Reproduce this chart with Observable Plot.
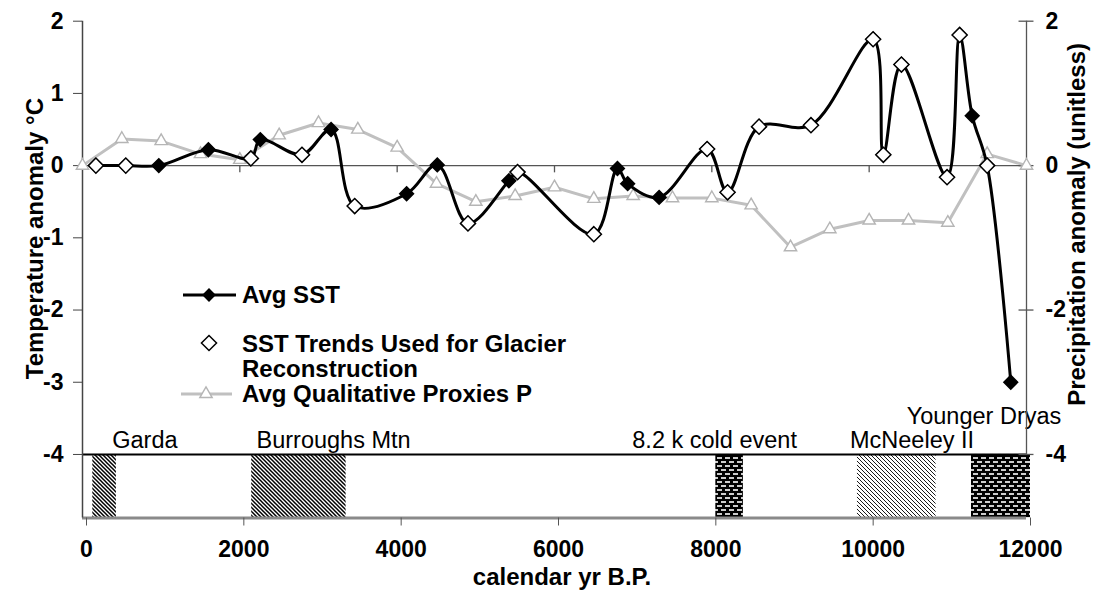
<!DOCTYPE html>
<html>
<head>
<meta charset="utf-8">
<script src="https://cdn.jsdelivr.net/npm/d3@7"></script>
<script src="https://cdn.jsdelivr.net/npm/@observablehq/plot@0.6"></script>
<style>
  html, body { margin: 0; padding: 0; background: #fff; }
  svg { overflow: visible; }
</style>
</head>
<body>
<div id="chart"></div>
<script>
// ---------- data ----------
// Avg SST (all points through which the smoothed black curve passes)
const sstYears  = [170, 550, 970, 1600, 2140, 2260, 2790, 3160, 3460, 4120, 4510, 4900, 5420, 5530, 6500, 6800, 6930, 7330, 7940, 8200, 8600, 9260, 10050, 10180, 10410, 10990, 11150, 11310, 11500, 11800];
const sstValues = [0, 0, 0, 0.22, 0.10, 0.36, 0.15, 0.50, -0.56, -0.39, 0.01, -0.80, -0.21, -0.09, -0.95, -0.04, -0.25, -0.44, 0.23, -0.37, 0.54, 0.56, 1.75, 0.15, 1.40, -0.16, 1.81, 0.69, 0, -3.0];

// SST Trends Used for Glacier Reconstruction (open diamonds)
const trendYears  = [170, 550, 2140, 2790, 3460, 4900, 5530, 6500, 7940, 8200, 8600, 9260, 10050, 10180, 10410, 10990, 11150, 11500];
const trendValues = [0, 0, 0.10, 0.15, -0.56, -0.80, -0.09, -0.95, 0.23, -0.37, 0.54, 0.56, 1.75, 0.15, 1.40, -0.16, 1.81, 0];

// Avg Qualitative Proxies P (right axis, same scale)
const proxyYears  = [0, 500, 1000, 1500, 2000, 2500, 3000, 3500, 4000, 4500, 5000, 5500, 6000, 6500, 7000, 7500, 8000, 8500, 9000, 9500, 10000, 10500, 11000, 11500, 12000];
const proxyValues = [0, 0.37, 0.34, 0.16, 0.08, 0.42, 0.59, 0.50, 0.25, -0.25, -0.50, -0.42, -0.30, -0.46, -0.42, -0.45, -0.45, -0.55, -1.13, -0.88, -0.76, -0.76, -0.79, 0.16, 0];

// Glacial / cold events shown in the lower box
const eventNames    = ["Garda", "Burroughs Mtn", "8.2 k cold event", "McNeeley II", "Younger Dryas"];
const eventStart    = [80, 2100, 8000, 9800, 11250];
const eventEnd      = [380, 3300, 8350, 10800, 12000];
const eventPattern  = ["darkDiag", "darkDiag", "brick", "lightDiag", "brick"];
const eventLabelYear = [378, 2212, 6989, 9756, 10477];

// Axis ticks
const xTicks     = [0, 2000, 4000, 6000, 8000, 10000, 12000];
const leftTicks  = [2, 1, 0, -1, -2, -3, -4];
const rightTicks = [2, 0, -2, -4];

// ---------- tables ----------
const sst    = sstYears.map((x, i) => ({x, y: sstValues[i]}));
const trend  = trendYears.map((x, i) => ({x, y: trendValues[i]}));
const proxy  = proxyYears.map((x, i) => ({x, y: proxyValues[i]}));
const events = eventNames.map((name, i) => ({name, start: eventStart[i], end: eventEnd[i], pattern: eventPattern[i], labelYear: eventLabelYear[i]}));

const yMin = -4.88, yMax = 2;
const fontFam = "'Liberation Sans', Arial, Helvetica, sans-serif";
const fmt = d => String(d);

const chart = Plot.plot({
  width: 1094,
  height: 591,
  marginLeft: 82,
  marginRight: 68,
  marginTop: 20.7,
  marginBottom: 73.5,
  x: {domain: [0, 12000]},
  y: {domain: [yMin, yMax]},
  style: {fontFamily: fontFam, fontSize: "23px", fontWeight: "bold", background: "white", color: "black", overflow: "visible"},
  marks: [
    // hatched event bars
    Plot.rect(events, {filter: d => d.pattern === "darkDiag", x1: "start", x2: "end", y1: yMin, y2: -4, fill: "url(#darkDiag)", dx: 4}),
    Plot.rect(events, {filter: d => d.pattern === "lightDiag", x1: "start", x2: "end", y1: yMin, y2: -4, fill: "url(#lightDiag)", dx: 4}),
    Plot.rect(events, {filter: d => d.pattern === "brick", x1: "start", x2: "end", y1: yMin, y2: -4, fill: "url(#brick)", dx: 4}),
    // event labels
    Plot.text(events, {filter: d => d.name !== "Younger Dryas", x: "labelYear", y: -4, text: "name", textAnchor: "start", lineAnchor: "bottom", dy: -6, fontWeight: "normal", fontSize: 23.5}),
    Plot.text(events, {filter: d => d.name === "Younger Dryas", x: "labelYear", y: -4, text: "name", textAnchor: "start", lineAnchor: "bottom", dy: -30, fontWeight: "normal", fontSize: 23.5}),
    // box lines
    Plot.ruleY([yMin], {x1: 0, x2: 12000, stroke: "#8a8a8a", strokeWidth: 3}),
    Plot.ruleY([-4], {x1: 0, x2: 12000, stroke: "black", strokeWidth: 2}),
    // axis lines
    Plot.ruleX([0], {y1: yMin, y2: yMax, stroke: "#444", strokeWidth: 1.5}),
    Plot.ruleX([12000], {y1: -4, y2: yMax, stroke: "#555", strokeWidth: 1.3}),
    Plot.ruleY([0], {x1: 0, x2: 12000, stroke: "#555", strokeWidth: 1.3}),
    Plot.ruleX(xTicks.slice(1, -1), {y1: 0, y2: -0.1, stroke: "#555", strokeWidth: 1.3}),
    Plot.ruleY(rightTicks, {x1: 12000 - 95, x2: 12000 + 95, stroke: "#555", strokeWidth: 1.3}),
    // axes
    Plot.axisY(leftTicks, {anchor: "left", tickSize: 9, tickPadding: 10, label: null, tickFormat: fmt, stroke: "#444"}),
    Plot.axisY(rightTicks, {anchor: "right", tickSize: 0, tickPadding: 19, label: null, tickFormat: fmt}),
    Plot.axisX(xTicks, {anchor: "bottom", tickSize: 8, tickPadding: 15, dx: 4, label: null, tickFormat: fmt, stroke: "#555"}),
    // proxies (grey)
    Plot.line(proxy, {x: "x", y: "y", stroke: "#c0c0c0", strokeWidth: 3}),
    Plot.dot(proxy, {x: "x", y: "y", symbol: "triangle2", r: 5.9, fill: "white", stroke: "#b5b5b5", strokeWidth: 1.4}),
    // avg SST (black smoothed)
    Plot.line(sst, {x: "x", y: "y", curve: "catmull-rom", stroke: "black", strokeWidth: 3}),
    Plot.dot(sst, {x: "x", y: "y", symbol: "diamond2", r: 6.2, fill: "black", stroke: "black"}),
    Plot.dot(trend, {x: "x", y: "y", symbol: "diamond2", r: 6.8, fill: "white", stroke: "black", strokeWidth: 1.5})
  ]
});

document.getElementById("chart").appendChild(chart);

// ---------- patterns, legend, titles ----------
const svg = d3.select(chart);
const defs = svg.insert("defs", ":first-child");

const pd = defs.append("pattern").attr("id", "darkDiag").attr("patternUnits", "userSpaceOnUse").attr("width", 4).attr("height", 4);
pd.append("rect").attr("width", 4).attr("height", 4).attr("fill", "white");
pd.append("path").attr("d", "M-1,-1L5,5M-1,3L1,5M3,-1L5,1").attr("stroke", "black").attr("stroke-width", 1.5);

const pl = defs.append("pattern").attr("id", "lightDiag").attr("patternUnits", "userSpaceOnUse").attr("width", 4).attr("height", 4);
pl.append("rect").attr("width", 4).attr("height", 4).attr("fill", "white");
pl.append("path").attr("d", "M-1,-1L5,5M-1,3L1,5M3,-1L5,1").attr("stroke", "black").attr("stroke-width", 0.9);

const pb = defs.append("pattern").attr("id", "brick").attr("patternUnits", "userSpaceOnUse").attr("width", 8).attr("height", 8);
pb.append("rect").attr("width", 8).attr("height", 8).attr("fill", "black");
pb.append("rect").attr("x", 1).attr("y", 1.2).attr("width", 5).attr("height", 1.6).attr("fill", "white");
pb.append("rect").attr("x", 5).attr("y", 5.2).attr("width", 5).attr("height", 1.6).attr("fill", "white");
pb.append("rect").attr("x", -3).attr("y", 5.2).attr("width", 5).attr("height", 1.6).attr("fill", "white");

const legend = svg.append("g").attr("font-family", fontFam).attr("font-weight", "bold").attr("font-size", 24).attr("text-anchor", "start");
// Avg SST
legend.append("line").attr("x1", 183).attr("x2", 236).attr("y1", 295).attr("y2", 295).attr("stroke", "black").attr("stroke-width", 3);
legend.append("path").attr("transform", "translate(209,295)").attr("d", d3.symbol(d3.symbolDiamond2, Math.PI * 6.2 * 6.2)()).attr("fill", "black");
legend.append("text").attr("x", 242).attr("y", 303).text("Avg SST");
// SST trends
legend.append("path").attr("transform", "translate(209,343)").attr("d", d3.symbol(d3.symbolDiamond2, Math.PI * 6.8 * 6.8)()).attr("fill", "white").attr("stroke", "black").attr("stroke-width", 1.5);
legend.append("text").attr("x", 242).attr("y", 352).text("SST Trends Used for Glacier");
legend.append("text").attr("x", 242).attr("y", 377).text("Reconstruction");
// Proxies
legend.append("line").attr("x1", 181).attr("x2", 232).attr("y1", 394).attr("y2", 394).attr("stroke", "#c0c0c0").attr("stroke-width", 3);
legend.append("path").attr("transform", "translate(206,394)").attr("d", d3.symbol(d3.symbolTriangle2, Math.PI * 5.9 * 5.9)()).attr("fill", "white").attr("stroke", "#b5b5b5").attr("stroke-width", 1.4);
legend.append("text").attr("x", 242).attr("y", 402).text("Avg Qualitative Proxies P");

const titles = svg.append("g").attr("font-family", fontFam).attr("font-weight", "bold").attr("font-size", 24);
titles.append("text").attr("transform", "translate(43,98) rotate(-90)").attr("text-anchor", "end").text("Temperature anomaly °C");
titles.append("text").attr("transform", "translate(1085,43) rotate(-90)").attr("text-anchor", "end").text("Precipitation anomaly (unitless)");
titles.append("text").attr("x", 562).attr("y", 585).attr("text-anchor", "middle").text("calendar yr B.P.");
</script>
</body>
</html>
